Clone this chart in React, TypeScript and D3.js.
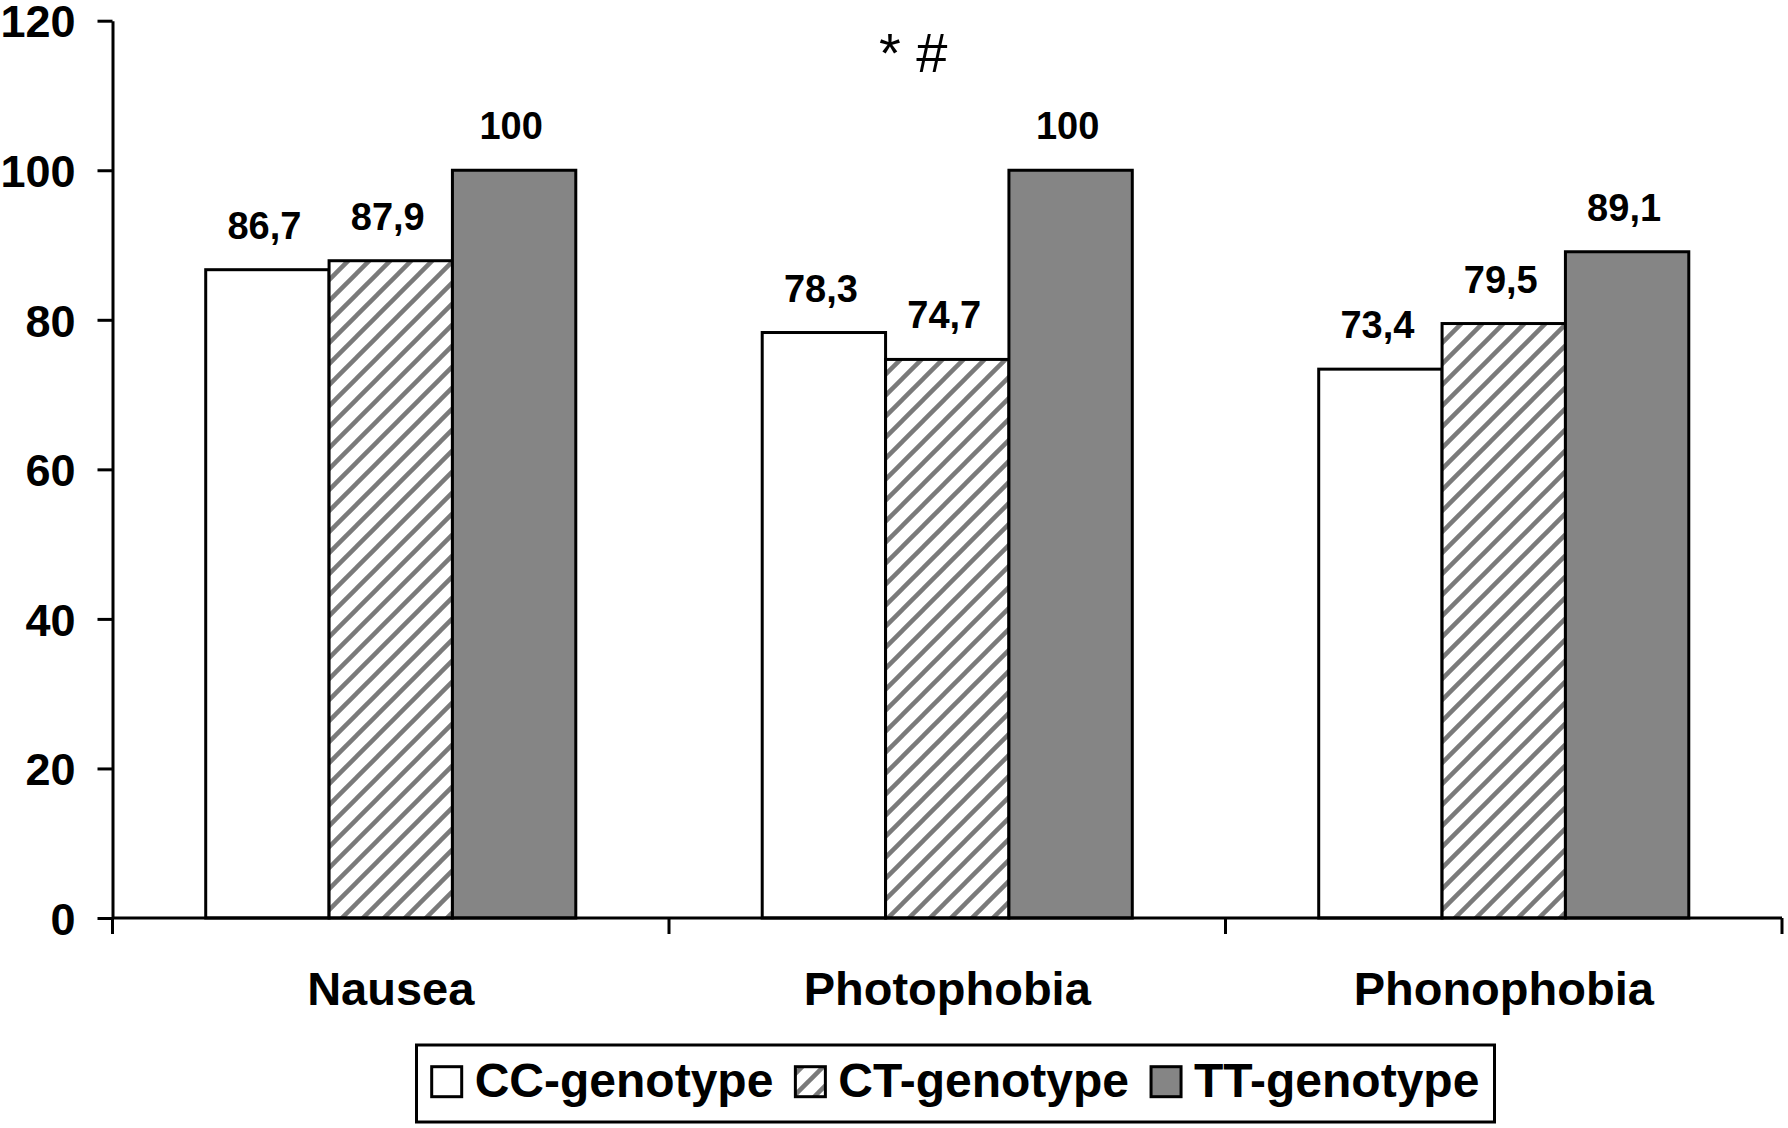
import * as d3 from "d3";
import { useEffect, useRef } from "react";

const categories = ["Nausea", "Photophobia", "Phonophobia"];
const seriesNames = ["CC-genotype", "CT-genotype", "TT-genotype"];
const ccValues = [86.7, 78.3, 73.4];
const ctValues = [87.9, 74.7, 79.5];
const ttValues = [100, 100, 89.1];
const yTicks = [0, 20, 40, 60, 80, 100, 120];
const annotation = "* #";

const FONT = "'Liberation Sans', Arial, sans-serif";

const App: React.FC = () => {
  const ref = useRef<SVGSVGElement | null>(null);

  useEffect(() => {
    document.body.style.margin = "0";
    const width = 1788;
    const height = 1128;
    const svg = d3.select(ref.current);
    svg.selectAll("*").remove();
    svg.attr("width", width).attr("height", height);

    const fills = ["#ffffff", "url(#hatch)", "#858585"];
    const valuesBySeries = [ccValues, ctValues, ttValues];

    const defs = svg.append("defs");
    const pat = defs
      .append("pattern")
      .attr("id", "hatch")
      .attr("patternUnits", "userSpaceOnUse")
      .attr("width", 21)
      .attr("height", 21);
    pat.append("rect").attr("width", 21).attr("height", 21).attr("fill", "#fff");
    [
      [0, 21, 21, 0],
      [-5, 5, 5, -5],
      [16, 26, 26, 16],
    ].forEach(([x1, y1, x2, y2]) =>
      pat
        .append("line")
        .attr("x1", x1)
        .attr("y1", y1)
        .attr("x2", x2)
        .attr("y2", y2)
        .attr("stroke", "#7a7a7a")
        .attr("stroke-width", 4.5)
    );

    const left = 112.5;
    const right = 1782;
    const y = d3.scaleLinear().domain([0, 120]).range([918, 20.7]);
    const x = d3
      .scaleBand()
      .domain(categories)
      .range([left, right])
      .paddingInner(0.335)
      .paddingOuter(0.1675);
    const xs = d3.scaleBand().domain(seriesNames).range([0, x.bandwidth()]);

    // bars
    seriesNames.forEach((s, si) => {
      const vals = valuesBySeries[si];
      svg
        .append("g")
        .selectAll("rect")
        .data(categories)
        .enter()
        .append("rect")
        .attr("x", (c) => (x(c) || 0) + (xs(s) || 0))
        .attr("y", (c, i) => y(vals[i]))
        .attr("width", xs.bandwidth())
        .attr("height", (c, i) => y(0) - y(vals[i]))
        .attr("fill", fills[si])
        .attr("stroke", "#000")
        .attr("stroke-width", 3);

      svg
        .append("g")
        .selectAll("text")
        .data(categories)
        .enter()
        .append("text")
        .attr("x", (c) => (x(c) || 0) + (xs(s) || 0) + xs.bandwidth() / 2 - 3)
        .attr("y", (c, i) => y(vals[i]) - 31)
        .attr("text-anchor", "middle")
        .attr("font-family", FONT)
        .attr("font-weight", "bold")
        .attr("font-size", 38)
        .text((c, i) => String(vals[i]).replace(".", ","));
    });

    // y axis
    const yAxis = svg
      .append("g")
      .attr("transform", `translate(${left},0)`)
      .call(
        d3
          .axisLeft(y)
          .tickValues(yTicks)
          .tickSize(15)
          .tickSizeOuter(0)
          .tickPadding(22)
      );
    yAxis.select(".domain").attr("stroke", "#000").attr("stroke-width", 3);
    yAxis.selectAll(".tick line").attr("stroke", "#000").attr("stroke-width", 3);
    yAxis
      .selectAll(".tick text")
      .attr("font-family", FONT)
      .attr("font-weight", "bold")
      .attr("font-size", 45)
      .attr("fill", "#000")
      .attr("dy", "0.36em");

    // x axis
    const xAxisG = svg.append("g").attr("transform", `translate(0,${y(0)})`);
    xAxisG
      .append("line")
      .attr("x1", left)
      .attr("x2", right)
      .attr("stroke", "#000")
      .attr("stroke-width", 3);
    const bounds = [left, ...categories.map((c) => (x(c) || 0) + x.bandwidth() + (x.step() - x.bandwidth()) / 2)];
    bounds[bounds.length - 1] = right;
    xAxisG
      .selectAll("line.tk")
      .data(bounds)
      .enter()
      .append("line")
      .attr("class", "tk")
      .attr("x1", (d) => d)
      .attr("x2", (d) => d)
      .attr("y1", 0)
      .attr("y2", 16)
      .attr("stroke", "#000")
      .attr("stroke-width", 3);
    xAxisG
      .selectAll("text")
      .data(categories)
      .enter()
      .append("text")
      .attr("x", (c) => (x(c) || 0) + x.bandwidth() / 2)
      .attr("y", 87)
      .attr("text-anchor", "middle")
      .attr("font-family", FONT)
      .attr("font-weight", "bold")
      .attr("font-size", 47)
      .text((c) => c);

    // significance annotation
    svg
      .append("text")
      .attr("x", (x("Photophobia") || 0) + x.bandwidth() / 2 - 34)
      .attr("y", 72)
      .attr("text-anchor", "middle")
      .attr("font-family", FONT)
      .attr("font-size", 56)
      .text(annotation);

    // legend
    const lg = svg.append("g");
    lg.append("rect")
      .attr("x", 416.5)
      .attr("y", 1045)
      .attr("width", 1078)
      .attr("height", 77)
      .attr("fill", "#fff")
      .attr("stroke", "#000")
      .attr("stroke-width", 3);
    let cx = 431.7;
    seriesNames.forEach((s, si) => {
      lg.append("rect")
        .attr("x", cx)
        .attr("y", 1066.7)
        .attr("width", 30)
        .attr("height", 30)
        .attr("fill", fills[si])
        .attr("stroke", "#000")
        .attr("stroke-width", 3);
      const t = lg
        .append("text")
        .attr("x", cx + 43)
        .attr("y", 1096.5)
        .attr("font-family", FONT)
        .attr("font-weight", "bold")
        .attr("font-size", 48)
        .text(s);
      const len = (t.node() as SVGTextElement).getComputedTextLength();
      cx = cx + 43 + len + 22;
    });
  }, []);

  return <svg ref={ref} style={{ display: "block" }} />;
};

export default App;
